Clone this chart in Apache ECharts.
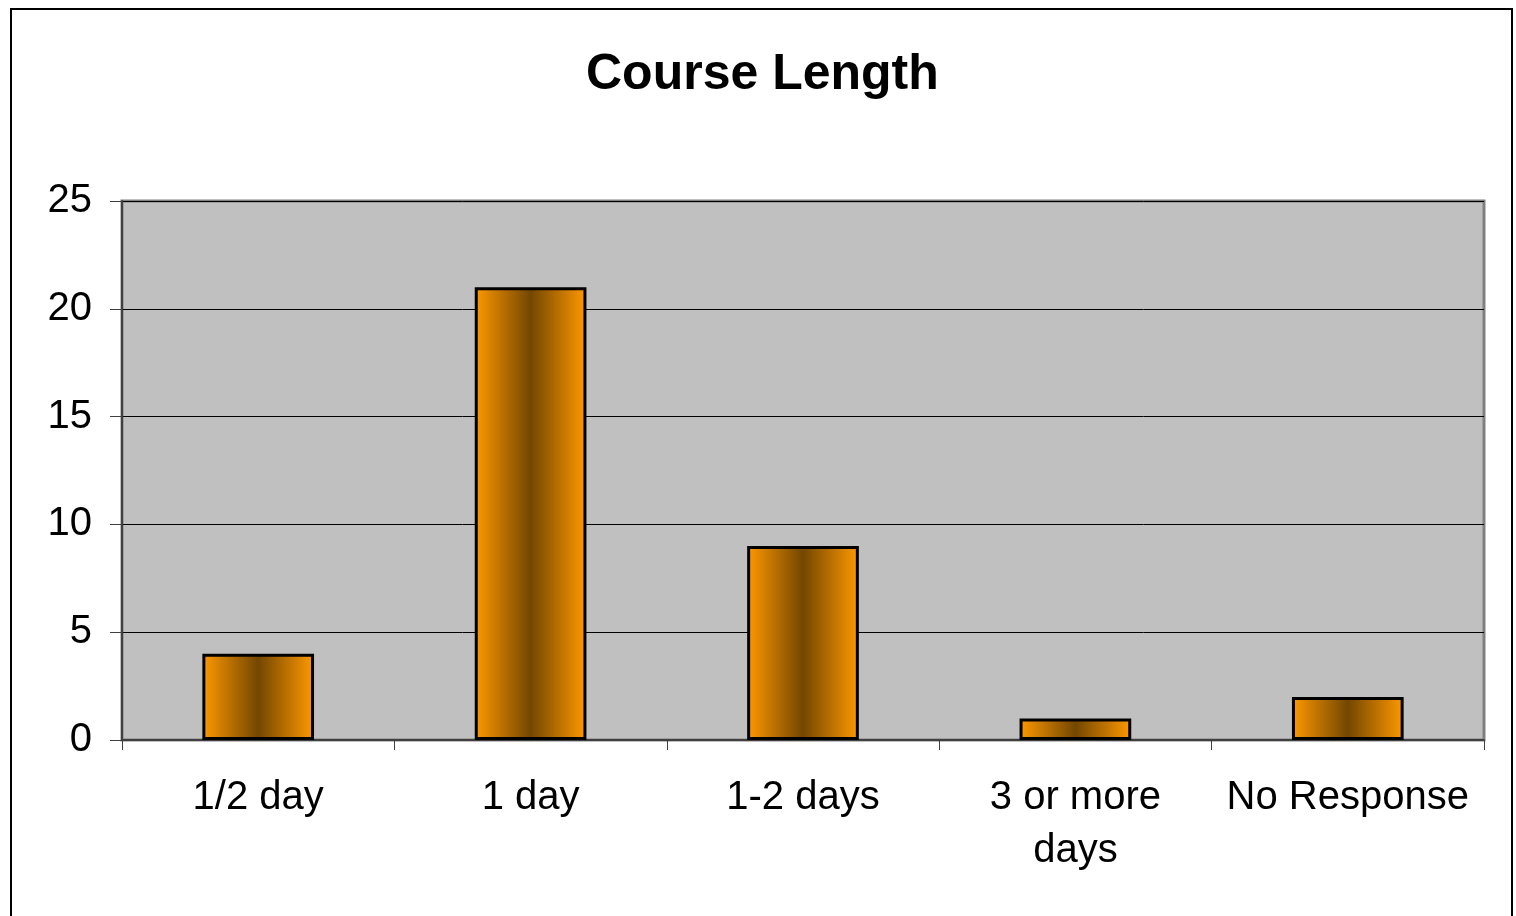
<!DOCTYPE html>
<html>
<head>
<meta charset="utf-8">
<script src="https://cdn.jsdelivr.net/npm/echarts@6/dist/echarts.min.js"></script>
<style>
  html, body { margin: 0; padding: 0; background: #fff; }
  #frame { position: absolute; left: 10px; top: 8px; width: 1503px; height: 960px; border: 2px solid #000; box-sizing: border-box; }
  #main { position: absolute; left: 0; top: 0; width: 1516px; height: 916px; }
</style>
</head>
<body>
<div id="frame"></div>
<div id="main"></div>
<script>
// data
var categories = ['1/2 day', '1 day', '1-2 days', '3 or more\ndays', 'No Response'];
var counts = [4, 21, 9, 1, 2];
var yTicks = { min: 0, max: 25, step: 5 };

var chart = echarts.init(document.getElementById('main'));

var barFill = new echarts.graphic.LinearGradient(0, 0, 1, 0, [
  { offset: 0, color: '#ff9900' },
  { offset: 0.5, color: '#734700' },
  { offset: 1, color: '#ff9900' }
]);

var option = {
  animation: false,
  title: {
    text: 'Course Length',
    left: 581,
    top: 45,
    textStyle: { fontFamily: 'Liberation Sans, Arial', fontSize: 50, fontWeight: 'bold', color: '#000' }
  },
  grid: {
    left: 122, right: 32, top: 201, bottom: 176,
    show: true,
    backgroundColor: '#c0c0c0',
    borderColor: '#808080',
    borderWidth: 3
  },
  xAxis: {
    type: 'category',
    data: categories,
    axisLine: { lineStyle: { color: '#404040', width: 2 } },
    axisTick: { show: true, length: 10, lineStyle: { color: '#404040' } },
    axisLabel: {
      margin: 31,
      fontFamily: 'Liberation Sans, Arial',
      fontSize: 40,
      lineHeight: 53,
      color: '#000',
      interval: 0
    }
  },
  yAxis: {
    type: 'value',
    min: yTicks.min,
    max: yTicks.max,
    interval: yTicks.step,
    axisLine: { show: true, lineStyle: { color: '#404040', width: 2 } },
    axisTick: { show: true, length: 12, lineStyle: { color: '#404040' } },
    splitLine: { lineStyle: { color: '#000', width: 1 } },
    axisLabel: {
      margin: 30,
      fontFamily: 'Liberation Sans, Arial',
      fontSize: 40,
      color: '#000'
    }
  },
  series: [{
    type: 'bar',
    data: counts,
    barWidth: '41%',
    itemStyle: { color: barFill, borderColor: '#000', borderWidth: 3 }
  }]
};

chart.setOption(option);
</script>
</body>
</html>
